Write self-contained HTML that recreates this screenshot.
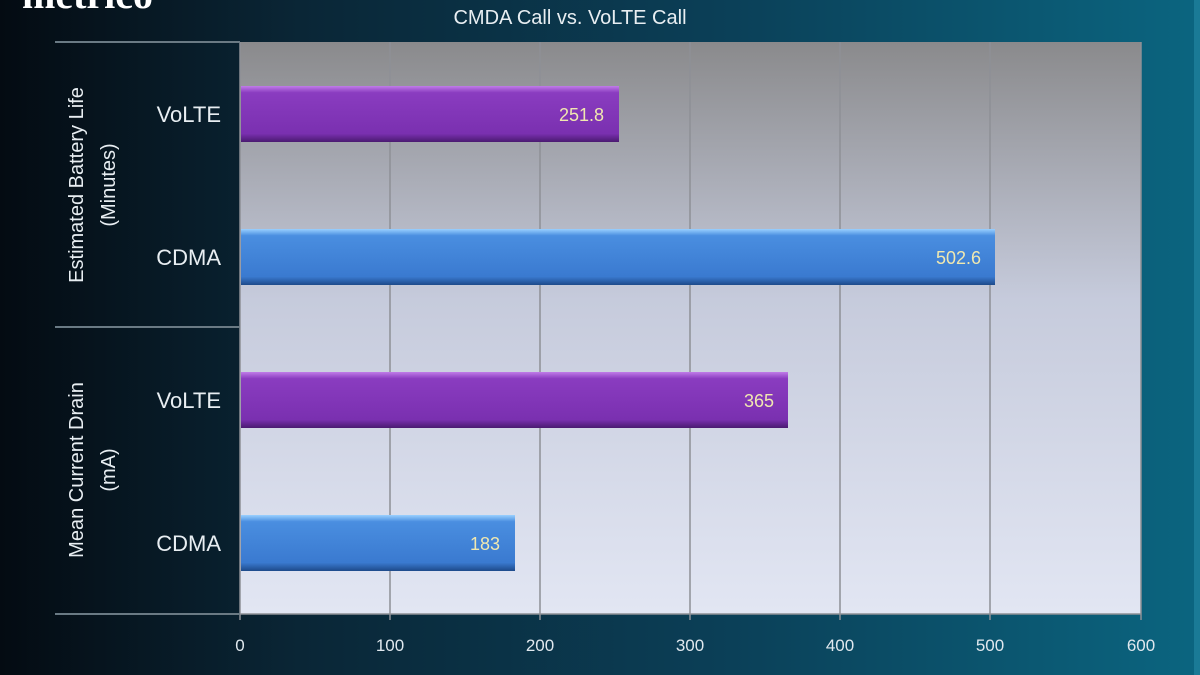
<!DOCTYPE html>
<html><head><style>
body{margin:0;width:1200px;height:675px;overflow:hidden;font-family:"Liberation Sans","DejaVu Sans",sans-serif;}
.bg{position:absolute;left:0;top:0;width:1200px;height:675px;background:linear-gradient(90deg,#040b12 0%,#0a2636 25%,#0b3f57 60%,#0b6580 100%);}
</style></head><body>
<div class="bg"></div>
<svg width="1200" height="675" style="position:absolute;left:0;top:0">
<defs>
<linearGradient id="pa" x1="0" y1="0" x2="0" y2="1">
<stop offset="0" stop-color="#8a8a8c"/><stop offset="0.45" stop-color="#c6cbdc"/><stop offset="1" stop-color="#e2e6f3"/></linearGradient>
<linearGradient id="pu" x1="0" y1="0" x2="0" y2="1">
<stop offset="0" stop-color="#c07ce8"/><stop offset="0.12" stop-color="#8a3cc0"/><stop offset="0.85" stop-color="#7a30b0"/><stop offset="1" stop-color="#4a1a70"/></linearGradient>
<linearGradient id="bl" x1="0" y1="0" x2="0" y2="1">
<stop offset="0" stop-color="#9ad0ff"/><stop offset="0.12" stop-color="#4a8ee0"/><stop offset="0.85" stop-color="#3a7ad0"/><stop offset="1" stop-color="#1d4a8a"/></linearGradient>
</defs>
<rect x="1194" y="0" width="6" height="675" fill="#1a7a96"/>
<text x="22" y="8" font-family="Liberation Serif" font-weight="bold" font-size="40" fill="#fff">metrico</text>
<text x="570" y="24" font-size="20" fill="#e8eef2" text-anchor="middle">CMDA Call vs. VoLTE Call</text>
<rect x="240" y="42" width="901" height="572" fill="url(#pa)"/>
<g stroke="#8e9096" stroke-width="1.5">
<line x1="390" y1="42" x2="390" y2="620"/><line x1="540" y1="42" x2="540" y2="620"/>
<line x1="690" y1="42" x2="690" y2="620"/><line x1="840" y1="42" x2="840" y2="620"/>
<line x1="990" y1="42" x2="990" y2="620"/><line x1="1141" y1="42" x2="1141" y2="620"/>
<line x1="240" y1="42" x2="240" y2="620"/>
<line x1="240" y1="614" x2="1141" y2="614"/>
</g>
<g stroke="#6a7a84" stroke-width="2">
<line x1="55" y1="42" x2="240" y2="42"/><line x1="55" y1="327" x2="240" y2="327"/><line x1="55" y1="614" x2="240" y2="614"/>
</g>
<rect x="241" y="86" width="378" height="56" fill="url(#pu)"/>
<rect x="241" y="229" width="754" height="56" fill="url(#bl)"/>
<rect x="241" y="372" width="547" height="56" fill="url(#pu)"/>
<rect x="241" y="515" width="274" height="56" fill="url(#bl)"/>
<g font-size="18" fill="#f0e8b0" text-anchor="end">
<text x="604" y="121">251.8</text><text x="981" y="264">502.6</text>
<text x="774" y="407">365</text><text x="500" y="550">183</text>
</g>
<g font-size="22" fill="#e8eef2" text-anchor="end">
<text x="221" y="122">VoLTE</text><text x="221" y="265">CDMA</text>
<text x="221" y="408">VoLTE</text><text x="221" y="551">CDMA</text>
</g>
<g font-size="20" fill="#e8eef2" text-anchor="middle">
<text transform="translate(83,185) rotate(-90)">Estimated Battery Life</text>
<text transform="translate(115,185) rotate(-90)">(Minutes)</text>
<text transform="translate(83,470) rotate(-90)">Mean Current Drain</text>
<text transform="translate(115,470) rotate(-90)">(mA)</text>
</g>
<g font-size="17" fill="#e0e8ee" text-anchor="middle">
<text x="240" y="651">0</text><text x="390" y="651">100</text><text x="540" y="651">200</text>
<text x="690" y="651">300</text><text x="840" y="651">400</text><text x="990" y="651">500</text><text x="1141" y="651">600</text>
</g>
</svg>
</body></html>
